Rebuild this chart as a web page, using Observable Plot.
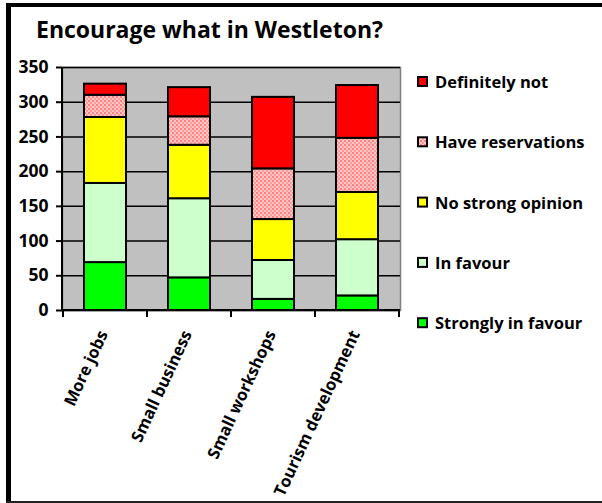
<!DOCTYPE html>
<html>
<head>
<meta charset="utf-8">
<script src="https://cdn.jsdelivr.net/npm/d3@7"></script>
<script src="https://cdn.jsdelivr.net/npm/@observablehq/plot@0.6"></script>
<style>
  html, body { margin: 0; padding: 0; background: #fff; }
  #chart { width: 602px; height: 503px; }
</style>
</head>
<body>
<div id="chart"></div>
<script>
const categories = ["More jobs", "Small business", "Small workshops", "Tourism development"];
const series = ["Strongly in favour", "In favour", "No strong opinion", "Have reservations", "Definitely not"];
const stronglyInFavour = [69, 47, 16, 21];
const inFavour = [114, 114, 56, 81];
const noStrongOpinion = [95, 77, 59, 68];
const haveReservations = [32, 41, 73, 78];
const definitelyNot = [16, 42, 103, 76];
const yTicks = [0, 50, 100, 150, 200, 250, 300, 350];
const title = "Encourage what in Westleton?";

const seriesValues = [stronglyInFavour, inFavour, noStrongOpinion, haveReservations, definitelyNot];
const seriesFills = ["#00ff00", "#ccffcc", "#ffff00", "url(#resPattern)", "#ff0000"];

const data = [];
seriesValues.forEach((vals, si) => {
  vals.forEach((v, ci) => data.push({cat: categories[ci], series: series[si], value: v}));
});

const font = "'Open Sans', Lato, sans-serif";

const chart = Plot.plot({
  width: 602,
  height: 503,
  marginLeft: 62,
  marginRight: 202,
  marginTop: 67,
  marginBottom: 193,
  style: {fontFamily: font, fontWeight: "bold", color: "#000", background: "#fff"},
  x: {domain: categories, paddingInner: 0.5, paddingOuter: 0.25, label: null},
  y: {domain: [0, 350], label: null},
  color: {domain: series, range: seriesFills},
  marks: [
    Plot.frame({fill: "#c0c0c0", stroke: "#808080", strokeWidth: 1.5}),
    Plot.ruleY(yTicks, {stroke: "#000", strokeWidth: 1.5}),
    Plot.barY(data, {x: "cat", y: "value", fill: "series", stroke: "#000", strokeWidth: 2}),
    Plot.axisY({ticks: yTicks, tickSize: 6, tickPadding: 8, fontSize: 17.5, tickFormat: d => d, stroke: "#000", strokeWidth: 2, label: null}),
    Plot.axisX({tickSize: 0, tickPadding: 21, tickRotate: -65, fontSize: 16.5, dx: -2, label: null})
  ]
});

const svg = d3.select(chart);
svg.insert("defs", ":first-child").html(`
  <pattern id="resPattern" patternUnits="userSpaceOnUse" width="4" height="4">
    <rect width="4" height="4" fill="#ffc4c4"/>
    <rect x="0" y="0" width="2" height="2" fill="#ff8080"/>
    <rect x="2" y="2" width="2" height="2" fill="#ff9a9a"/>
  </pattern>`);

const xs = chart.scale("x");
const ys = chart.scale("y");
const [x0, x1] = xs.range;
const [yBottom, yTop] = ys.range;

const overlay = svg.append("g");
overlay.append("line").attr("x1", x0).attr("x2", x0).attr("y1", yTop).attr("y2", yBottom)
  .attr("stroke", "#000").attr("stroke-width", 2);
overlay.append("line").attr("x1", x0).attr("x2", x1).attr("y1", yBottom).attr("y2", yBottom)
  .attr("stroke", "#000").attr("stroke-width", 2);
const bounds = categories.map(c => xs.apply(c) - (xs.step - xs.bandwidth) / 2);
bounds.push(xs.apply(categories[categories.length - 1]) + xs.bandwidth + (xs.step - xs.bandwidth) / 2);
overlay.selectAll("line.xt").data(bounds).join("line").attr("class", "xt")
  .attr("x1", d => d).attr("x2", d => d).attr("y1", yBottom).attr("y2", yBottom + 7)
  .attr("stroke", "#000").attr("stroke-width", 2);

svg.append("text").attr("x", 36).attr("y", 38).attr("font-size", 23).attr("font-weight", "bold")
  .attr("text-anchor", "start").attr("font-family", font).attr("fill", "#000").text(title);

const legendItems = series.map((s, i) => ({s, fill: seriesFills[i]})).reverse();
const lg = svg.append("g").attr("font-family", font).attr("font-size", 16.5).attr("font-weight", "bold")
  .attr("text-anchor", "start");
legendItems.forEach((d, i) => {
  const cy = 82 + i * 60.3;
  lg.append("rect").attr("x", 418).attr("y", cy - 5).attr("width", 9).attr("height", 9)
    .attr("fill", d.fill).attr("stroke", "#000").attr("stroke-width", 2);
  lg.append("text").attr("x", 435).attr("y", cy + 6).attr("fill", "#000").text(d.s);
});

svg.append("line").attr("x1", 8.5).attr("x2", 8.5).attr("y1", 3).attr("y2", 503).attr("stroke", "#000").attr("stroke-width", 5);
svg.append("line").attr("x1", 6).attr("x2", 602).attr("y1", 5).attr("y2", 5).attr("stroke", "#000").attr("stroke-width", 4);
svg.append("line").attr("x1", 6).attr("x2", 602).attr("y1", 502).attr("y2", 502).attr("stroke", "#222").attr("stroke-width", 2);

document.getElementById("chart").appendChild(chart);
</script>
</body>
</html>
